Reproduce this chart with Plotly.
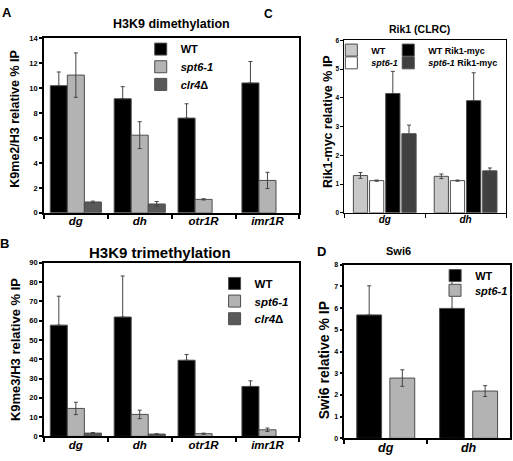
import plotly.graph_objects as go

# ---------------- data ----------------
cats_ab = ["dg", "dh", "otr1R", "imr1R"]
cats_cd = ["dg", "dh"]

a_wt = [10.2, 9.15, 7.6, 10.42]
a_wt_err = [1.1, 0.97, 1.15, 1.72]
a_spt6 = [11.05, 6.23, 1.08, 2.6]
a_spt6_err = [1.78, 1.08, 0.05, 0.65]
a_clr4 = [0.87, 0.71, None, None]
a_clr4_err = [0.07, 0.2, None, None]

b_wt = [57.7, 61.9, 39.5, 25.9]
b_wt_err = [15.0, 21.3, 3.0, 2.9]
b_spt6 = [14.5, 11.4, 1.4, 3.4]
b_spt6_err = [3.2, 2.2, 0.3, 0.9]
b_clr4 = [1.7, 1.2, None, None]
b_clr4_err = [0.3, 0.2, None, None]

c_wt = [1.3, 1.27]
c_wt_err = [0.1, 0.08]
c_spt6 = [1.12, 1.12]
c_spt6_err = [0.02, 0.02]
c_wtmyc = [4.15, 3.9]
c_wtmyc_err = [0.77, 0.97]
c_spt6myc = [2.75, 1.46]
c_spt6myc_err = [0.3, 0.1]

d_wt = [5.69, 5.99]
d_wt_err = [1.34, 1.39]
d_spt6 = [2.78, 2.18]
d_spt6_err = [0.38, 0.25]

W, H = 513, 461
FONT = "Liberation Sans, Arial, sans-serif"


def px(x):
    return x / W


def py(y):
    return 1 - y / H


BLACK = "#000000"
LGRAY = "#b3b3b3"
DGRAY = "#595959"
OUTLINE = "#4d4d4d"
ERR = "#444444"

fig = go.Figure()
legend_specs = {}


def bar(x, y, err, name, color, xa, ya, leg, lx, ly, lsize, up_only=False, width=None):
    if up_only:
        ey = dict(type="data", array=err, arrayminus=[0] * len(err), symmetric=False,
                  color=ERR, thickness=1, width=2)
    else:
        ey = dict(type="data", array=err, color=ERR, thickness=1, width=2)
    fig.add_trace(go.Bar(x=x, y=y, name=name, width=width, showlegend=True,
                         marker=dict(color=color, line=dict(color=OUTLINE, width=1)),
                         error_y=ey, xaxis=xa, yaxis=ya, legend=leg))
    legend_specs[leg] = (lx, ly, lsize)


# Panel A
bar(cats_ab, a_wt, a_wt_err, "WT", BLACK, "x", "y", "legend", 141, 46, 11, True)
bar(cats_ab, a_spt6, a_spt6_err, "<i>spt6-1</i>", LGRAY, "x", "y", "legend2", 141, 64, 11)
bar(cats_ab, a_clr4, a_clr4_err, "<i>clr4</i>Δ", DGRAY, "x", "y", "legend3", 141, 82, 11)
# Panel B
bar(cats_ab, b_wt, b_wt_err, "WT", BLACK, "x2", "y2", "legend4", 215, 285, 11.5, True)
bar(cats_ab, b_spt6, b_spt6_err, "<i>spt6-1</i>", LGRAY, "x2", "y2", "legend5", 215, 303, 11.5)
bar(cats_ab, b_clr4, b_clr4_err, "<i>clr4</i>Δ", DGRAY, "x2", "y2", "legend6", 215, 321, 11.5)
# Panel C
bar(cats_cd, c_wt, c_wt_err, "WT", "#c8c8c8", "x3", "y3", "legend7", 332, 47, 9, width=0.176)
bar(cats_cd, c_spt6, c_spt6_err, "<i>spt6-1</i>", "#ffffff", "x3", "y3", "legend8", 332, 60, 9, width=0.176)
bar(cats_cd, c_wtmyc, c_wtmyc_err, "WT Rik1-myc", BLACK, "x3", "y3", "legend9", 389, 47, 9, True, width=0.176)
bar(cats_cd, c_spt6myc, c_spt6myc_err, "<i>spt6-1</i> Rik1-myc", "#404040", "x3", "y3", "legend10", 389, 60, 9, width=0.176)
# Panel D
bar(cats_cd, d_wt, d_wt_err, "WT", BLACK, "x4", "y4", "legend11", 436, 277, 11, True, width=0.30)
bar(cats_cd, d_spt6, d_spt6_err, "<i>spt6-1</i>", LGRAY, "x4", "y4", "legend12", 436, 292, 11, width=0.30)


def xaxis(dom, anchor, size, lw):
    return dict(domain=dom, anchor=anchor, type="category", showline=True, mirror=True,
                linecolor="black", linewidth=lw, ticks="outside", tickson="boundaries",
                ticklen=4, tickcolor="black", tickwidth=lw, showgrid=False, fixedrange=True,
                ticklabelstandoff=-3,
                tickfont=dict(family=FONT, size=size, color="black", weight="bold", style="italic"))


def yaxis(dom, anchor, rng, dtick, size, lw):
    return dict(domain=dom, anchor=anchor, range=rng, dtick=dtick, showline=True, mirror=True,
                linecolor="black", linewidth=lw, ticks="outside", ticklen=3, tickcolor="black",
                tickwidth=lw, showgrid=False, zeroline=False, fixedrange=True,
                tickfont=dict(family=FONT, size=size, color="black", weight="bold"))


xa_dom = [px(44), px(300)]
xc_dom = [px(345), px(507)]
xd_dom = [px(345), px(511)]

fig.update_layout(
    width=W, height=H, margin=dict(l=0, r=0, t=0, b=0),
    paper_bgcolor="white", plot_bgcolor="white", showlegend=True,
    barmode="group", bargap=0.2, bargroupgap=0,
    font=dict(family=FONT, color="black"),
    xaxis=xaxis(xa_dom, "y", 11.5, 1.5),
    yaxis=yaxis([py(213), py(35)], "x", [0, 14], 2, 7.5, 1.5),
    xaxis2=xaxis(xa_dom, "y2", 11.5, 1.5),
    yaxis2=yaxis([py(441), py(264)], "x2", [0, 90], 10, 7.5, 1.5),
    xaxis3=xaxis(xc_dom, "y3", 10, 1),
    yaxis3=yaxis([py(213), py(37)], "x3", [0, 6], 1, 6.5, 1),
    xaxis4=xaxis(xd_dom, "y4", 12.5, 1.5),
    yaxis4=yaxis([py(443), py(266)], "x4", [0, 8], 1, 7, 1.5),
)

for leg, (lx, ly, lsize) in legend_specs.items():
    fig.update_layout({leg: dict(bgcolor="rgba(0,0,0,0)", borderwidth=0, xanchor="left",
                                 yanchor="middle", x=px(lx), y=py(ly), tracegroupgap=0,
                                 visible=True,
                                 font=dict(family=FONT, size=lsize, weight="bold", color="black"))})


def ann(text, x, y, size, angle=0, anchor="center"):
    fig.add_annotation(text=text, x=px(x), y=py(y), xref="paper", yref="paper",
                       showarrow=False, textangle=angle, xanchor=anchor, yanchor="middle",
                       font=dict(family=FONT, size=size, color="black", weight="bold"))


# panel letters
ann("A", 7, 9, 13)
ann("B", 5, 244, 13)
ann("C", 269, 10, 12)
ann("D", 322, 252, 13)
# titles
ann("H3K9 dimethylation", 172, 20, 12.5)
ann("H3K9 trimethylation", 160, 253, 15)
ann("Rik1 (CLRC)", 420, 25, 10.5)
ann("Swi6", 399, 252, 11)
# y titles
ann("K9me2/H3 relative % IP", 15, 117, 12.5, -90)
ann("K9me3/H3 relative % IP", 15, 352, 13, -90)
ann("Rik1-myc relative % IP", 328, 120, 12.5, -90)
ann("Swi6 relative % IP", 325, 363, 14, -90)

fig.write_html("out.html", config={"displayModeBar": False},
               post_script="document.body.style.margin='0';document.body.style.overflow='hidden';")
